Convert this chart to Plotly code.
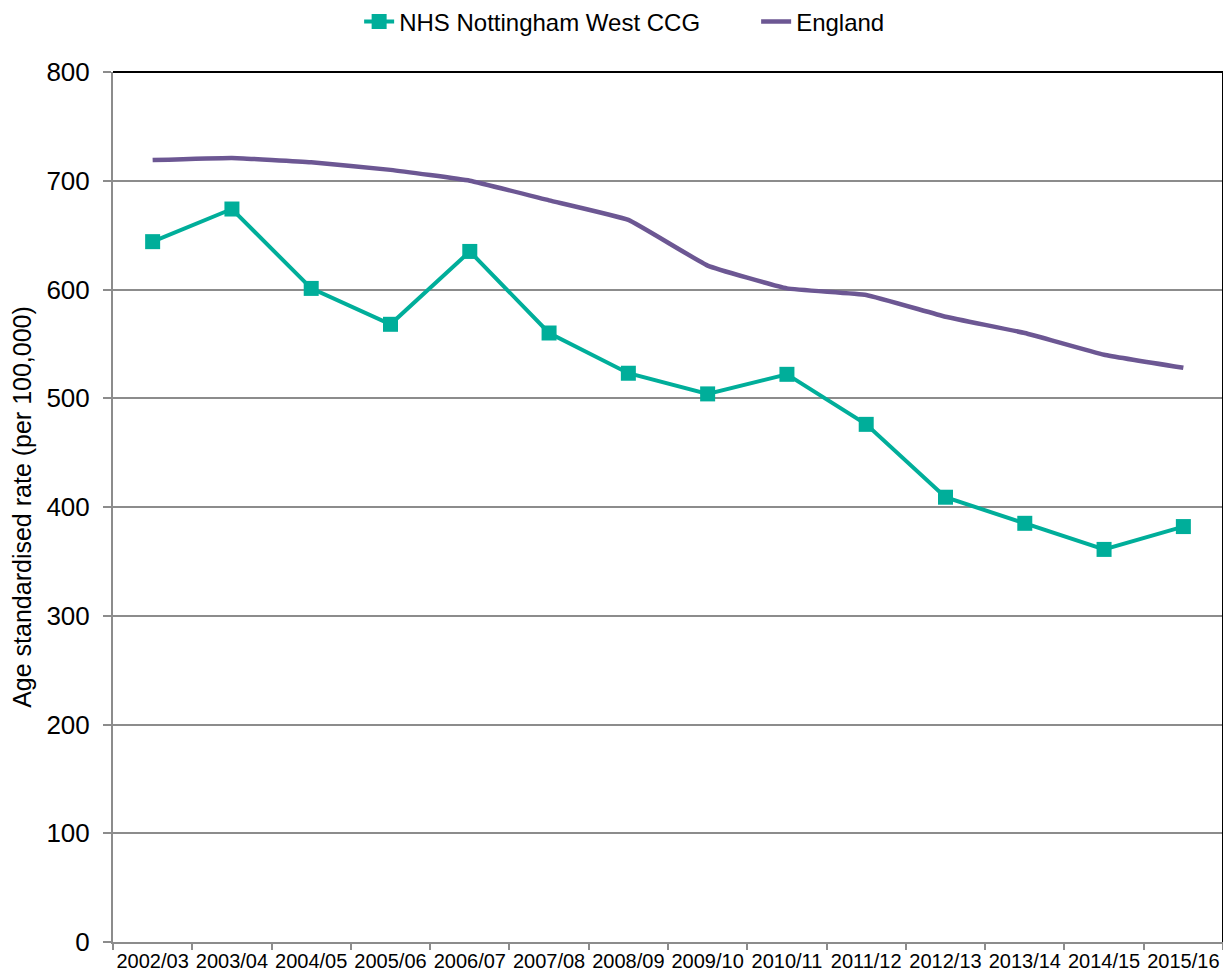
import plotly.graph_objects as go

years = ["2002/03", "2003/04", "2004/05", "2005/06", "2006/07", "2007/08", "2008/09",
         "2009/10", "2010/11", "2011/12", "2012/13", "2013/14", "2014/15", "2015/16"]
nhs_nottingham_west = [644, 674, 601, 568, 635, 560, 523, 504, 522, 476, 409, 385, 361, 382]
england = [719, 721, 717, 710, 700, 682, 664, 622, 601, 595, 575, 560, 540, 528]

teal = "#00AE9A"
purple = "#6C5793"
grid = "#8C8C8C"
font_family = "Liberation Sans, Arial, sans-serif"

fig = go.Figure()
fig.add_trace(go.Scatter(
    x=years, y=nhs_nottingham_west, name="NHS Nottingham West CCG",
    mode="lines+markers",
    line=dict(color=teal, width=4),
    marker=dict(symbol="square", size=15, color=teal),
))
fig.add_trace(go.Scatter(
    x=years, y=england, name="England",
    mode="lines",
    line=dict(color=purple, width=4.5, shape="spline", smoothing=0.3),
))

fig.update_layout(
    width=1215, height=964,
    margin=dict(l=105, r=0, t=64, b=30),
    plot_bgcolor="white", paper_bgcolor="white",
    font=dict(family=font_family, color="black"),
    showlegend=True,
    legend=dict(orientation="h", x=0.289, xanchor="left", xref="container",
                y=0.9855, yanchor="middle", yref="container",
                font=dict(size=24), traceorder="normal", entrywidth=352),
    xaxis=dict(
        type="category", range=[-0.5, 13.5], automargin=False,
        tickson="boundaries", ticks="outside", ticklen=6, tickcolor=grid, tickwidth=2,
        showline=True, linecolor=grid, linewidth=2, tickangle=0,
        showgrid=False, tickfont=dict(size=20), ticklabelstandoff=0,
    ),
    yaxis=dict(
        range=[0, 800], dtick=100, tick0=0, automargin=False,
        ticks="outside", ticklen=8, tickcolor=grid, tickwidth=2,
        showline=True, linecolor=grid, linewidth=2,
        showgrid=True, gridcolor=grid, gridwidth=1.5,
        zeroline=False, tickfont=dict(size=26), ticklabelstandoff=8,
        title=dict(text="Age standardised rate (per 100,000)", font=dict(size=25), standoff=10),
    ),
)

# top and right plot border in black
fig.add_shape(type="line", xref="paper", yref="paper", x0=0, x1=1, y0=1, y1=1,
              line=dict(color="black", width=2))
fig.add_shape(type="line", xref="paper", yref="paper", x0=1, x1=1, y0=0, y1=1,
              line=dict(color="black", width=2))

fig.write_html("out.html")
